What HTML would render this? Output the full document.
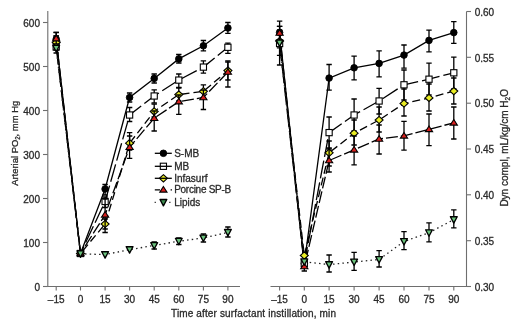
<!DOCTYPE html>
<html><head><meta charset="utf-8"><style>
html,body{margin:0;padding:0;background:#fff;width:520px;height:327px;overflow:hidden}
svg{display:block}
</style></head><body>
<svg width="520" height="327" viewBox="0 0 520 327">
<g font-family="Liberation Sans, Arial, sans-serif" font-size="10" fill="#2a2a2a" stroke="#2a2a2a" stroke-width="0.3">
<path d="M47.8 11V286.5H240" stroke="#6e6e6e" stroke-width="1.1" fill="none"/>
<path d="M43 286.5H47.8" stroke="#6e6e6e" stroke-width="1.1"/>
<text x="40" y="290.5" text-anchor="end">0</text>
<path d="M43 242.5H47.8" stroke="#6e6e6e" stroke-width="1.1"/>
<text x="40" y="246.5" text-anchor="end">100</text>
<path d="M43 198.5H47.8" stroke="#6e6e6e" stroke-width="1.1"/>
<text x="40" y="202.5" text-anchor="end">200</text>
<path d="M43 154.5H47.8" stroke="#6e6e6e" stroke-width="1.1"/>
<text x="40" y="158.5" text-anchor="end">300</text>
<path d="M43 110.5H47.8" stroke="#6e6e6e" stroke-width="1.1"/>
<text x="40" y="114.5" text-anchor="end">400</text>
<path d="M43 66.5H47.8" stroke="#6e6e6e" stroke-width="1.1"/>
<text x="40" y="70.5" text-anchor="end">500</text>
<path d="M43 22.5H47.8" stroke="#6e6e6e" stroke-width="1.1"/>
<text x="40" y="26.5" text-anchor="end">600</text>
<path d="M56.2 286.5V290.5" stroke="#6e6e6e" stroke-width="1.1"/>
<text x="56.2" y="303.2" text-anchor="middle">–15</text>
<path d="M80.5 286.5V290.5" stroke="#6e6e6e" stroke-width="1.1"/>
<text x="80.5" y="303.2" text-anchor="middle">0</text>
<path d="M105.1 286.5V290.5" stroke="#6e6e6e" stroke-width="1.1"/>
<text x="105.1" y="303.2" text-anchor="middle">15</text>
<path d="M129.6 286.5V290.5" stroke="#6e6e6e" stroke-width="1.1"/>
<text x="129.6" y="303.2" text-anchor="middle">30</text>
<path d="M154.2 286.5V290.5" stroke="#6e6e6e" stroke-width="1.1"/>
<text x="154.2" y="303.2" text-anchor="middle">45</text>
<path d="M178.8 286.5V290.5" stroke="#6e6e6e" stroke-width="1.1"/>
<text x="178.8" y="303.2" text-anchor="middle">60</text>
<path d="M203.4 286.5V290.5" stroke="#6e6e6e" stroke-width="1.1"/>
<text x="203.4" y="303.2" text-anchor="middle">75</text>
<path d="M227.9 286.5V290.5" stroke="#6e6e6e" stroke-width="1.1"/>
<text x="227.9" y="303.2" text-anchor="middle">90</text>
<path d="M270.5 286.5H466.5V11.5" stroke="#6e6e6e" stroke-width="1.1" fill="none"/>
<path d="M466.5 286.5H471" stroke="#6e6e6e" stroke-width="1.1"/>
<text x="474.7" y="290.7">0.30</text>
<path d="M466.5 240.7H471" stroke="#6e6e6e" stroke-width="1.1"/>
<text x="474.7" y="244.9">0.35</text>
<path d="M466.5 194.8H471" stroke="#6e6e6e" stroke-width="1.1"/>
<text x="474.7" y="199.0">0.40</text>
<path d="M466.5 149.0H471" stroke="#6e6e6e" stroke-width="1.1"/>
<text x="474.7" y="153.2">0.45</text>
<path d="M466.5 103.2H471" stroke="#6e6e6e" stroke-width="1.1"/>
<text x="474.7" y="107.4">0.50</text>
<path d="M466.5 57.3H471" stroke="#6e6e6e" stroke-width="1.1"/>
<text x="474.7" y="61.5">0.55</text>
<path d="M466.5 11.5H471" stroke="#6e6e6e" stroke-width="1.1"/>
<text x="474.7" y="15.7">0.60</text>
<path d="M279.6 286.5V290.5" stroke="#6e6e6e" stroke-width="1.1"/>
<text x="279.6" y="303.2" text-anchor="middle">–15</text>
<path d="M304.3 286.5V290.5" stroke="#6e6e6e" stroke-width="1.1"/>
<text x="304.3" y="303.2" text-anchor="middle">0</text>
<path d="M329.1 286.5V290.5" stroke="#6e6e6e" stroke-width="1.1"/>
<text x="329.1" y="303.2" text-anchor="middle">15</text>
<path d="M354.1 286.5V290.5" stroke="#6e6e6e" stroke-width="1.1"/>
<text x="354.1" y="303.2" text-anchor="middle">30</text>
<path d="M379.1 286.5V290.5" stroke="#6e6e6e" stroke-width="1.1"/>
<text x="379.1" y="303.2" text-anchor="middle">45</text>
<path d="M404.0 286.5V290.5" stroke="#6e6e6e" stroke-width="1.1"/>
<text x="404.0" y="303.2" text-anchor="middle">60</text>
<path d="M429.0 286.5V290.5" stroke="#6e6e6e" stroke-width="1.1"/>
<text x="429.0" y="303.2" text-anchor="middle">75</text>
<path d="M453.8 286.5V290.5" stroke="#6e6e6e" stroke-width="1.1"/>
<text x="453.8" y="303.2" text-anchor="middle">90</text>
</g>
<g>
<polyline points="56.2,39.2 80.5,253.5 105.1,189.0 129.6,97.5 154.2,78.4 178.8,58.9 203.4,45.8 227.9,28.0" fill="none" stroke="#000" stroke-width="1.3"/>
<polyline points="56.2,47.0 80.5,253.5 105.1,201.5 129.6,115.0 154.2,96.0 178.8,80.1 203.4,67.1 227.9,47.3" fill="none" stroke="#000" stroke-width="1.3" stroke-dasharray="18 4"/>
<polyline points="56.2,42.5 80.5,253.5 105.1,224.0 129.6,143.2 154.2,111.4 178.8,94.6 203.4,91.3 227.9,70.6" fill="none" stroke="#000" stroke-width="1.3" stroke-dasharray="8 4"/>
<polyline points="56.2,38.6 80.5,253.5 105.1,214.8 129.6,147.2 154.2,118.2 178.8,101.6 203.4,97.5 227.9,72.0" fill="none" stroke="#000" stroke-width="1.3" stroke-dasharray="12 3"/>
<polyline points="56.2,48.2 80.5,253.8 105.1,254.6 129.6,249.6 154.2,245.5 178.8,241.2 203.4,238.0 227.9,232.4" fill="none" stroke="#222" stroke-width="1.3" stroke-dasharray="1.5 3.2"/>
<path d="M56.2 32.3V46.0M53.5 32.3H58.9M53.5 46.0H58.9" stroke="#000" stroke-width="1.3" fill="none"/>
<path d="M105.1 184.5V195.0M102.4 184.5H107.8M102.4 195.0H107.8" stroke="#000" stroke-width="1.3" fill="none"/>
<path d="M129.6 93.0V102.0M126.9 93.0H132.3M126.9 102.0H132.3" stroke="#000" stroke-width="1.3" fill="none"/>
<path d="M154.2 74.0V83.0M151.5 74.0H156.9M151.5 83.0H156.9" stroke="#000" stroke-width="1.3" fill="none"/>
<path d="M178.8 54.5V63.0M176.1 54.5H181.5M176.1 63.0H181.5" stroke="#000" stroke-width="1.3" fill="none"/>
<path d="M203.4 40.5V50.8M200.7 40.5H206.1M200.7 50.8H206.1" stroke="#000" stroke-width="1.3" fill="none"/>
<path d="M227.9 22.5V33.4M225.2 22.5H230.6M225.2 33.4H230.6" stroke="#000" stroke-width="1.3" fill="none"/>
<circle cx="56.2" cy="39.2" r="3.3" fill="#000" stroke="#000" stroke-width="0.9"/>
<circle cx="80.5" cy="253.5" r="3.3" fill="#000" stroke="#000" stroke-width="0.9"/>
<circle cx="105.1" cy="189.0" r="3.3" fill="#000" stroke="#000" stroke-width="0.9"/>
<circle cx="129.6" cy="97.5" r="3.3" fill="#000" stroke="#000" stroke-width="0.9"/>
<circle cx="154.2" cy="78.4" r="3.3" fill="#000" stroke="#000" stroke-width="0.9"/>
<circle cx="178.8" cy="58.9" r="3.3" fill="#000" stroke="#000" stroke-width="0.9"/>
<circle cx="203.4" cy="45.8" r="3.3" fill="#000" stroke="#000" stroke-width="0.9"/>
<circle cx="227.9" cy="28.0" r="3.3" fill="#000" stroke="#000" stroke-width="0.9"/>
<path d="M56.2 36.0V53.0M53.5 36.0H58.9M53.5 53.0H58.9" stroke="#000" stroke-width="1.3" fill="none"/>
<path d="M105.1 197.0V207.5M102.4 197.0H107.8M102.4 207.5H107.8" stroke="#000" stroke-width="1.3" fill="none"/>
<path d="M129.6 107.5V121.5M126.9 107.5H132.3M126.9 121.5H132.3" stroke="#000" stroke-width="1.3" fill="none"/>
<path d="M154.2 89.8V102.8M151.5 89.8H156.9M151.5 102.8H156.9" stroke="#000" stroke-width="1.3" fill="none"/>
<path d="M178.8 74.0V87.4M176.1 74.0H181.5M176.1 87.4H181.5" stroke="#000" stroke-width="1.3" fill="none"/>
<path d="M203.4 60.9V73.2M200.7 60.9H206.1M200.7 73.2H206.1" stroke="#000" stroke-width="1.3" fill="none"/>
<path d="M227.9 43.2V53.3M225.2 43.2H230.6M225.2 53.3H230.6" stroke="#000" stroke-width="1.3" fill="none"/>
<rect x="53.1" y="43.9" width="6.2" height="6.2" fill="#fff" stroke="#000" stroke-width="1.1"/>
<rect x="77.4" y="250.4" width="6.2" height="6.2" fill="#fff" stroke="#000" stroke-width="1.1"/>
<rect x="102.0" y="198.4" width="6.2" height="6.2" fill="#fff" stroke="#000" stroke-width="1.1"/>
<rect x="126.5" y="111.9" width="6.2" height="6.2" fill="#fff" stroke="#000" stroke-width="1.1"/>
<rect x="151.1" y="92.9" width="6.2" height="6.2" fill="#fff" stroke="#000" stroke-width="1.1"/>
<rect x="175.7" y="77.0" width="6.2" height="6.2" fill="#fff" stroke="#000" stroke-width="1.1"/>
<rect x="200.3" y="64.0" width="6.2" height="6.2" fill="#fff" stroke="#000" stroke-width="1.1"/>
<rect x="224.8" y="44.2" width="6.2" height="6.2" fill="#fff" stroke="#000" stroke-width="1.1"/>
<path d="M56.2 36.0V50.0M53.5 36.0H58.9M53.5 50.0H58.9" stroke="#000" stroke-width="1.3" fill="none"/>
<path d="M105.1 219.0V229.0M102.4 219.0H107.8M102.4 229.0H107.8" stroke="#000" stroke-width="1.3" fill="none"/>
<path d="M129.6 136.0V150.0M126.9 136.0H132.3M126.9 150.0H132.3" stroke="#000" stroke-width="1.3" fill="none"/>
<path d="M154.2 104.0V117.0M151.5 104.0H156.9M151.5 117.0H156.9" stroke="#000" stroke-width="1.3" fill="none"/>
<path d="M178.8 88.0V101.0M176.1 88.0H181.5M176.1 101.0H181.5" stroke="#000" stroke-width="1.3" fill="none"/>
<path d="M203.4 84.8V98.0M200.7 84.8H206.1M200.7 98.0H206.1" stroke="#000" stroke-width="1.3" fill="none"/>
<path d="M227.9 60.9V80.0M225.2 60.9H230.6M225.2 80.0H230.6" stroke="#000" stroke-width="1.3" fill="none"/>
<polygon points="56.2,38.9 60.2,42.5 56.2,46.1 52.2,42.5" fill="#e8ec24" stroke="#000" stroke-width="1.1"/>
<polygon points="80.5,249.9 84.5,253.5 80.5,257.1 76.5,253.5" fill="#e8ec24" stroke="#000" stroke-width="1.1"/>
<polygon points="105.1,220.4 109.1,224.0 105.1,227.6 101.1,224.0" fill="#e8ec24" stroke="#000" stroke-width="1.1"/>
<polygon points="129.6,139.6 133.6,143.2 129.6,146.8 125.6,143.2" fill="#e8ec24" stroke="#000" stroke-width="1.1"/>
<polygon points="154.2,107.8 158.2,111.4 154.2,115.0 150.2,111.4" fill="#e8ec24" stroke="#000" stroke-width="1.1"/>
<polygon points="178.8,91.0 182.8,94.6 178.8,98.2 174.8,94.6" fill="#e8ec24" stroke="#000" stroke-width="1.1"/>
<polygon points="203.4,87.7 207.4,91.3 203.4,94.9 199.4,91.3" fill="#e8ec24" stroke="#000" stroke-width="1.1"/>
<polygon points="227.9,67.0 231.9,70.6 227.9,74.2 223.9,70.6" fill="#e8ec24" stroke="#000" stroke-width="1.1"/>
<path d="M56.2 32.5V44.0M53.5 32.5H58.9M53.5 44.0H58.9" stroke="#000" stroke-width="1.3" fill="none"/>
<path d="M105.1 199.0V232.5M102.4 199.0H107.8M102.4 232.5H107.8" stroke="#000" stroke-width="1.3" fill="none"/>
<path d="M129.6 132.7V158.4M126.9 132.7H132.3M126.9 158.4H132.3" stroke="#000" stroke-width="1.3" fill="none"/>
<path d="M154.2 111.0V131.0M151.5 111.0H156.9M151.5 131.0H156.9" stroke="#000" stroke-width="1.3" fill="none"/>
<path d="M178.8 95.0V114.3M176.1 95.0H181.5M176.1 114.3H181.5" stroke="#000" stroke-width="1.3" fill="none"/>
<path d="M203.4 90.0V109.5M200.7 90.0H206.1M200.7 109.5H206.1" stroke="#000" stroke-width="1.3" fill="none"/>
<path d="M227.9 62.0V87.0M225.2 62.0H230.6M225.2 87.0H230.6" stroke="#000" stroke-width="1.3" fill="none"/>
<polygon points="56.2,35.3 59.8,40.9 52.6,40.9" fill="#d8201e" stroke="#000" stroke-width="1.1"/>
<polygon points="80.5,250.2 84.1,255.8 76.9,255.8" fill="#d8201e" stroke="#000" stroke-width="1.1"/>
<polygon points="105.1,211.5 108.7,217.1 101.5,217.1" fill="#d8201e" stroke="#000" stroke-width="1.1"/>
<polygon points="129.6,143.9 133.2,149.5 126.0,149.5" fill="#d8201e" stroke="#000" stroke-width="1.1"/>
<polygon points="154.2,114.9 157.8,120.5 150.6,120.5" fill="#d8201e" stroke="#000" stroke-width="1.1"/>
<polygon points="178.8,98.3 182.4,103.9 175.2,103.9" fill="#d8201e" stroke="#000" stroke-width="1.1"/>
<polygon points="203.4,94.2 207.0,99.8 199.8,99.8" fill="#d8201e" stroke="#000" stroke-width="1.1"/>
<polygon points="227.9,68.7 231.5,74.3 224.3,74.3" fill="#d8201e" stroke="#000" stroke-width="1.1"/>
<path d="M154.2 242.0V249.0M151.5 242.0H156.9M151.5 249.0H156.9" stroke="#000" stroke-width="1.3" fill="none"/>
<path d="M178.8 238.0V244.5M176.1 238.0H181.5M176.1 244.5H181.5" stroke="#000" stroke-width="1.3" fill="none"/>
<path d="M203.4 234.0V242.0M200.7 234.0H206.1M200.7 242.0H206.1" stroke="#000" stroke-width="1.3" fill="none"/>
<path d="M227.9 227.0V237.0M225.2 227.0H230.6M225.2 237.0H230.6" stroke="#000" stroke-width="1.3" fill="none"/>
<polygon points="52.8,45.3 59.6,45.3 56.2,51.7" fill="#6cc47e" stroke="#000" stroke-width="1.35" stroke-linejoin="round"/>
<polygon points="77.1,250.9 83.9,250.9 80.5,257.3" fill="#6cc47e" stroke="#000" stroke-width="1.35" stroke-linejoin="round"/>
<polygon points="101.7,251.7 108.5,251.7 105.1,258.1" fill="#6cc47e" stroke="#000" stroke-width="1.35" stroke-linejoin="round"/>
<polygon points="126.2,246.7 133.0,246.7 129.6,253.1" fill="#6cc47e" stroke="#000" stroke-width="1.35" stroke-linejoin="round"/>
<polygon points="150.8,242.6 157.6,242.6 154.2,249.0" fill="#6cc47e" stroke="#000" stroke-width="1.35" stroke-linejoin="round"/>
<polygon points="175.4,238.3 182.2,238.3 178.8,244.7" fill="#6cc47e" stroke="#000" stroke-width="1.35" stroke-linejoin="round"/>
<polygon points="200.0,235.1 206.8,235.1 203.4,241.5" fill="#6cc47e" stroke="#000" stroke-width="1.35" stroke-linejoin="round"/>
<polygon points="224.5,229.5 231.3,229.5 227.9,235.9" fill="#6cc47e" stroke="#000" stroke-width="1.35" stroke-linejoin="round"/>
</g>
<g>
<polyline points="279.6,32.5 304.3,263.5 329.1,78.1 354.1,67.8 379.1,63.4 404.0,55.1 429.0,40.4 453.8,32.6" fill="none" stroke="#000" stroke-width="1.3"/>
<polyline points="279.6,43.5 304.3,263.5 329.1,132.6 354.1,115.0 379.1,101.0 404.0,84.8 429.0,79.2 453.8,72.8" fill="none" stroke="#000" stroke-width="1.3" stroke-dasharray="18 4"/>
<polyline points="279.6,41.0 304.3,255.5 329.1,152.8 354.1,133.2 379.1,120.0 404.0,103.5 429.0,97.9 453.8,91.1" fill="none" stroke="#000" stroke-width="1.3" stroke-dasharray="8 4"/>
<polyline points="279.6,33.0 304.3,266.5 329.1,160.5 354.1,149.8 379.1,139.0 404.0,135.8 429.0,129.3 453.8,122.8" fill="none" stroke="#000" stroke-width="1.3" stroke-dasharray="12 3"/>
<polyline points="279.6,43.0 304.3,261.8 329.1,264.6 354.1,262.0 379.1,259.5 404.0,241.5 429.0,232.7 453.8,219.6" fill="none" stroke="#222" stroke-width="1.3" stroke-dasharray="1.5 3.2"/>
<path d="M279.6 21.2V47.8M276.9 21.2H282.3M276.9 47.8H282.3" stroke="#000" stroke-width="1.3" fill="none"/>
<path d="M329.1 64.5V90.2M326.4 64.5H331.8M326.4 90.2H331.8" stroke="#000" stroke-width="1.3" fill="none"/>
<path d="M354.1 56.1V79.8M351.4 56.1H356.8M351.4 79.8H356.8" stroke="#000" stroke-width="1.3" fill="none"/>
<path d="M379.1 50.8V76.8M376.4 50.8H381.8M376.4 76.8H381.8" stroke="#000" stroke-width="1.3" fill="none"/>
<path d="M404.0 45.0V68.2M401.3 45.0H406.7M401.3 68.2H406.7" stroke="#000" stroke-width="1.3" fill="none"/>
<path d="M429.0 30.2V51.8M426.3 30.2H431.7M426.3 51.8H431.7" stroke="#000" stroke-width="1.3" fill="none"/>
<path d="M453.8 21.6V43.4M451.1 21.6H456.5M451.1 43.4H456.5" stroke="#000" stroke-width="1.3" fill="none"/>
<circle cx="279.6" cy="32.5" r="3.3" fill="#000" stroke="#000" stroke-width="0.9"/>
<circle cx="304.3" cy="263.5" r="3.3" fill="#000" stroke="#000" stroke-width="0.9"/>
<circle cx="329.1" cy="78.1" r="3.3" fill="#000" stroke="#000" stroke-width="0.9"/>
<circle cx="354.1" cy="67.8" r="3.3" fill="#000" stroke="#000" stroke-width="0.9"/>
<circle cx="379.1" cy="63.4" r="3.3" fill="#000" stroke="#000" stroke-width="0.9"/>
<circle cx="404.0" cy="55.1" r="3.3" fill="#000" stroke="#000" stroke-width="0.9"/>
<circle cx="429.0" cy="40.4" r="3.3" fill="#000" stroke="#000" stroke-width="0.9"/>
<circle cx="453.8" cy="32.6" r="3.3" fill="#000" stroke="#000" stroke-width="0.9"/>
<path d="M279.6 26.4V55.4M276.9 26.4H282.3M276.9 55.4H282.3" stroke="#000" stroke-width="1.3" fill="none"/>
<path d="M329.1 117.0V149.0M326.4 117.0H331.8M326.4 149.0H331.8" stroke="#000" stroke-width="1.3" fill="none"/>
<path d="M354.1 99.0V131.0M351.4 99.0H356.8M351.4 131.0H356.8" stroke="#000" stroke-width="1.3" fill="none"/>
<path d="M379.1 88.3V114.0M376.4 88.3H381.8M376.4 114.0H381.8" stroke="#000" stroke-width="1.3" fill="none"/>
<path d="M404.0 70.0V100.0M401.3 70.0H406.7M401.3 100.0H406.7" stroke="#000" stroke-width="1.3" fill="none"/>
<path d="M429.0 63.2V95.0M426.3 63.2H431.7M426.3 95.0H431.7" stroke="#000" stroke-width="1.3" fill="none"/>
<path d="M453.8 57.1V89.0M451.1 57.1H456.5M451.1 89.0H456.5" stroke="#000" stroke-width="1.3" fill="none"/>
<rect x="276.5" y="40.4" width="6.2" height="6.2" fill="#fff" stroke="#000" stroke-width="1.1"/>
<rect x="301.2" y="260.4" width="6.2" height="6.2" fill="#fff" stroke="#000" stroke-width="1.1"/>
<rect x="326.0" y="129.5" width="6.2" height="6.2" fill="#fff" stroke="#000" stroke-width="1.1"/>
<rect x="351.0" y="111.9" width="6.2" height="6.2" fill="#fff" stroke="#000" stroke-width="1.1"/>
<rect x="376.0" y="97.9" width="6.2" height="6.2" fill="#fff" stroke="#000" stroke-width="1.1"/>
<rect x="400.9" y="81.7" width="6.2" height="6.2" fill="#fff" stroke="#000" stroke-width="1.1"/>
<rect x="425.9" y="76.1" width="6.2" height="6.2" fill="#fff" stroke="#000" stroke-width="1.1"/>
<rect x="450.7" y="69.7" width="6.2" height="6.2" fill="#fff" stroke="#000" stroke-width="1.1"/>
<path d="M279.6 30.0V65.0M276.9 30.0H282.3M276.9 65.0H282.3" stroke="#000" stroke-width="1.3" fill="none"/>
<path d="M329.1 141.0V166.0M326.4 141.0H331.8M326.4 166.0H331.8" stroke="#000" stroke-width="1.3" fill="none"/>
<path d="M354.1 120.0V145.0M351.4 120.0H356.8M351.4 145.0H356.8" stroke="#000" stroke-width="1.3" fill="none"/>
<path d="M379.1 107.0V132.0M376.4 107.0H381.8M376.4 132.0H381.8" stroke="#000" stroke-width="1.3" fill="none"/>
<path d="M404.0 89.0V116.0M401.3 89.0H406.7M401.3 116.0H406.7" stroke="#000" stroke-width="1.3" fill="none"/>
<path d="M429.0 84.0V111.0M426.3 84.0H431.7M426.3 111.0H431.7" stroke="#000" stroke-width="1.3" fill="none"/>
<path d="M453.8 78.0V104.0M451.1 78.0H456.5M451.1 104.0H456.5" stroke="#000" stroke-width="1.3" fill="none"/>
<polygon points="279.6,37.4 283.6,41.0 279.6,44.6 275.6,41.0" fill="#e8ec24" stroke="#000" stroke-width="1.1"/>
<polygon points="304.3,251.9 308.3,255.5 304.3,259.1 300.3,255.5" fill="#e8ec24" stroke="#000" stroke-width="1.1"/>
<polygon points="329.1,149.2 333.1,152.8 329.1,156.4 325.1,152.8" fill="#e8ec24" stroke="#000" stroke-width="1.1"/>
<polygon points="354.1,129.6 358.1,133.2 354.1,136.8 350.1,133.2" fill="#e8ec24" stroke="#000" stroke-width="1.1"/>
<polygon points="379.1,116.4 383.1,120.0 379.1,123.6 375.1,120.0" fill="#e8ec24" stroke="#000" stroke-width="1.1"/>
<polygon points="404.0,99.9 408.0,103.5 404.0,107.1 400.0,103.5" fill="#e8ec24" stroke="#000" stroke-width="1.1"/>
<polygon points="429.0,94.3 433.0,97.9 429.0,101.5 425.0,97.9" fill="#e8ec24" stroke="#000" stroke-width="1.1"/>
<polygon points="453.8,87.5 457.8,91.1 453.8,94.7 449.8,91.1" fill="#e8ec24" stroke="#000" stroke-width="1.1"/>
<path d="M279.6 26.4V40.0M276.9 26.4H282.3M276.9 40.0H282.3" stroke="#000" stroke-width="1.3" fill="none"/>
<path d="M304.3 261.0V271.0M301.6 261.0H307.0M301.6 271.0H307.0" stroke="#000" stroke-width="1.3" fill="none"/>
<path d="M329.1 148.0V172.0M326.4 148.0H331.8M326.4 172.0H331.8" stroke="#000" stroke-width="1.3" fill="none"/>
<path d="M354.1 136.0V164.8M351.4 136.0H356.8M351.4 164.8H356.8" stroke="#000" stroke-width="1.3" fill="none"/>
<path d="M379.1 125.0V154.0M376.4 125.0H381.8M376.4 154.0H381.8" stroke="#000" stroke-width="1.3" fill="none"/>
<path d="M404.0 121.3V150.1M401.3 121.3H406.7M401.3 150.1H406.7" stroke="#000" stroke-width="1.3" fill="none"/>
<path d="M429.0 114.0V145.7M426.3 114.0H431.7M426.3 145.7H431.7" stroke="#000" stroke-width="1.3" fill="none"/>
<path d="M453.8 107.0V139.0M451.1 107.0H456.5M451.1 139.0H456.5" stroke="#000" stroke-width="1.3" fill="none"/>
<polygon points="279.6,29.7 283.2,35.3 276.0,35.3" fill="#d8201e" stroke="#000" stroke-width="1.1"/>
<polygon points="304.3,263.2 307.9,268.8 300.7,268.8" fill="#d8201e" stroke="#000" stroke-width="1.1"/>
<polygon points="329.1,157.2 332.7,162.8 325.5,162.8" fill="#d8201e" stroke="#000" stroke-width="1.1"/>
<polygon points="354.1,146.5 357.7,152.1 350.5,152.1" fill="#d8201e" stroke="#000" stroke-width="1.1"/>
<polygon points="379.1,135.7 382.7,141.3 375.5,141.3" fill="#d8201e" stroke="#000" stroke-width="1.1"/>
<polygon points="404.0,132.5 407.6,138.1 400.4,138.1" fill="#d8201e" stroke="#000" stroke-width="1.1"/>
<polygon points="429.0,126.0 432.6,131.6 425.4,131.6" fill="#d8201e" stroke="#000" stroke-width="1.1"/>
<polygon points="453.8,119.5 457.4,125.1 450.2,125.1" fill="#d8201e" stroke="#000" stroke-width="1.1"/>
<path d="M329.1 255.0V272.0M326.4 255.0H331.8M326.4 272.0H331.8" stroke="#000" stroke-width="1.3" fill="none"/>
<path d="M354.1 252.3V270.3M351.4 252.3H356.8M351.4 270.3H356.8" stroke="#000" stroke-width="1.3" fill="none"/>
<path d="M379.1 250.7V267.0M376.4 250.7H381.8M376.4 267.0H381.8" stroke="#000" stroke-width="1.3" fill="none"/>
<path d="M404.0 231.7V249.7M401.3 231.7H406.7M401.3 249.7H406.7" stroke="#000" stroke-width="1.3" fill="none"/>
<path d="M429.0 222.9V241.8M426.3 222.9H431.7M426.3 241.8H431.7" stroke="#000" stroke-width="1.3" fill="none"/>
<path d="M453.8 209.8V227.8M451.1 209.8H456.5M451.1 227.8H456.5" stroke="#000" stroke-width="1.3" fill="none"/>
<polygon points="276.2,40.1 283.0,40.1 279.6,46.5" fill="#6cc47e" stroke="#000" stroke-width="1.35" stroke-linejoin="round"/>
<polygon points="300.9,258.9 307.7,258.9 304.3,265.3" fill="#6cc47e" stroke="#000" stroke-width="1.35" stroke-linejoin="round"/>
<polygon points="325.7,261.7 332.5,261.7 329.1,268.1" fill="#6cc47e" stroke="#000" stroke-width="1.35" stroke-linejoin="round"/>
<polygon points="350.7,259.1 357.5,259.1 354.1,265.5" fill="#6cc47e" stroke="#000" stroke-width="1.35" stroke-linejoin="round"/>
<polygon points="375.7,256.6 382.5,256.6 379.1,263.0" fill="#6cc47e" stroke="#000" stroke-width="1.35" stroke-linejoin="round"/>
<polygon points="400.6,238.6 407.4,238.6 404.0,245.0" fill="#6cc47e" stroke="#000" stroke-width="1.35" stroke-linejoin="round"/>
<polygon points="425.6,229.8 432.4,229.8 429.0,236.2" fill="#6cc47e" stroke="#000" stroke-width="1.35" stroke-linejoin="round"/>
<polygon points="450.4,216.7 457.2,216.7 453.8,223.1" fill="#6cc47e" stroke="#000" stroke-width="1.35" stroke-linejoin="round"/>
</g>
<g font-family="Liberation Sans, Arial, sans-serif" font-size="10" fill="#2a2a2a" stroke="#2a2a2a" stroke-width="0.3">
<circle cx="163.4" cy="153.3" r="3.3" fill="#000" stroke="#000" stroke-width="0.9"/>
<path d="M154.8 153.3H171.8" stroke="#000" stroke-width="1.3"/>
<text x="174.2" y="156.7">S-MB</text>
<rect x="160.3" y="163.2" width="6.2" height="6.2" fill="#fff" stroke="#000" stroke-width="1.1"/>
<path d="M154.8 166.3H171.8" stroke="#000" stroke-width="1.3"/>
<text x="174.2" y="169.7">MB</text>
<polygon points="163.4,174.7 167.4,178.3 163.4,181.9 159.4,178.3" fill="#e8ec24" stroke="#000" stroke-width="1.1"/>
<path d="M154.8 178.3H171.8" stroke="#000" stroke-width="1.3"/>
<text x="174.2" y="181.7">Infasurf</text>
<polygon points="163.4,186.5 167.0,192.1 159.8,192.1" fill="#d8201e" stroke="#000" stroke-width="1.1"/>
<path d="M154.8 189.8H160M170.6 189.8H172" stroke="#000" stroke-width="1.3"/>
<text x="174.2" y="193.2" textLength="57" lengthAdjust="spacing">Porcine SP-B</text>
<polygon points="160.0,199.5 166.8,199.5 163.4,205.9" fill="#3f8f52" stroke="#000" stroke-width="1.35" stroke-linejoin="round"/>
<path d="M154.6 202.4H155.9M169.2 202.4H170.5" stroke="#333" stroke-width="1.3"/>
<text x="174.2" y="205.8">Lipids</text>
<text transform="translate(17.8 185.8) rotate(-90)" font-size="9.8" textLength="85" lengthAdjust="spacingAndGlyphs">Arterial PO<tspan font-size="6.3" dy="2">2</tspan><tspan dy="-2">, mm Hg</tspan></text>
<text transform="translate(507.8 206.6) rotate(-90)">Dyn compl, mL/kg/cm H<tspan font-size="6.5" dy="2">2</tspan><tspan dy="-2">O</tspan></text>
<text x="171" y="317.4" textLength="165" lengthAdjust="spacing">Time after surfactant instillation, min</text>
</g>
</svg>
</body></html>
